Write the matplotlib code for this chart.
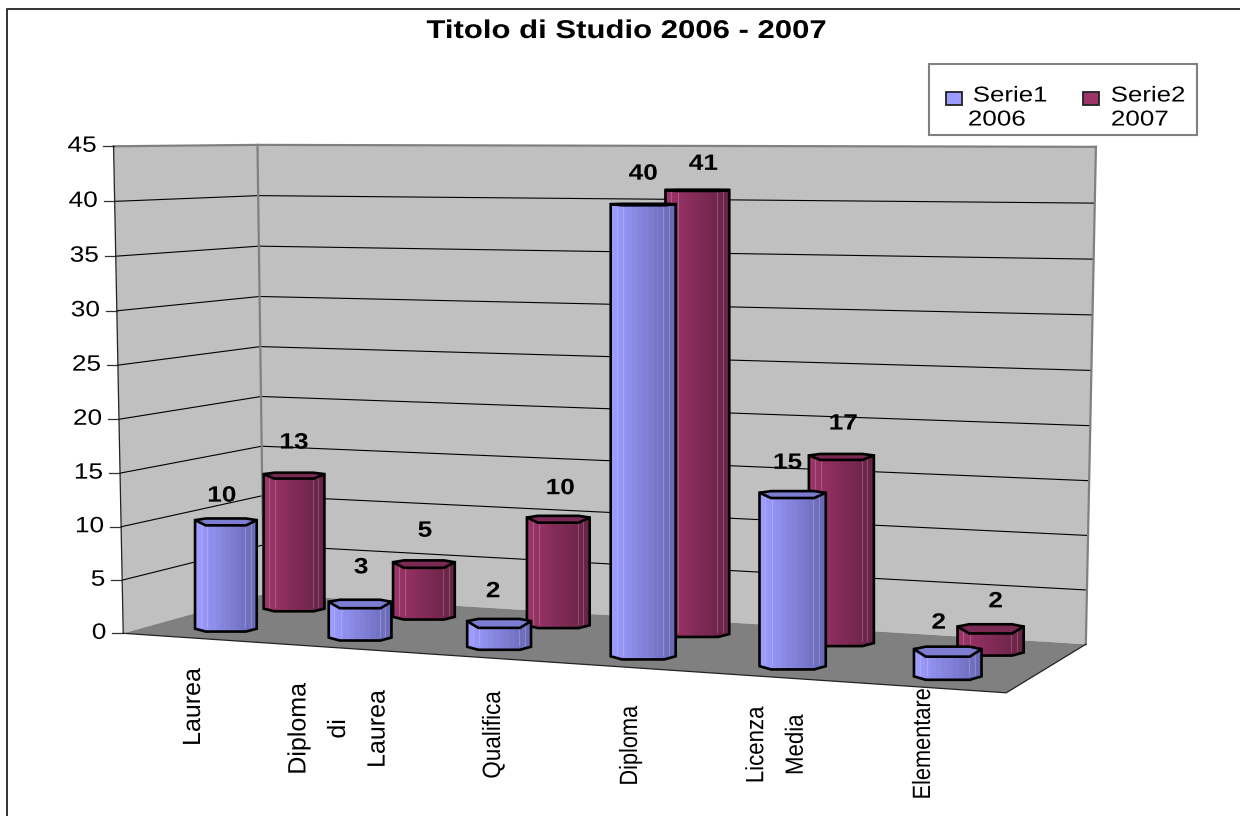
import numpy as np
import matplotlib
matplotlib.use("Agg")
import matplotlib.pyplot as plt
from matplotlib.patches import Polygon, Rectangle
from matplotlib.patheffects import AbstractPathEffect
from matplotlib.transforms import Affine2D

# ---------- data ----------
categories = ["Laurea", "Diploma\ndi\nLaurea", "Qualifica", "Diploma", "Licenza\nMedia", "Elementare"]
serie_2006 = [10, 3, 2, 40, 15, 2]
serie_2007 = [13, 5, 10, 41, 17, 2]
y_ticks = [0, 5, 10, 15, 20, 25, 30, 35, 40, 45]
title = "Titolo di Studio 2006 - 2007"
legend_names = ["Serie1", "Serie2"]
legend_years = ["2006", "2007"]

# ---------- style ----------
plt.rcParams["font.family"] = ["Liberation Sans", "DejaVu Sans"]
BLUE = ("#9C9CFF", "#6A6AB8", "#7C7CD0")
RED = ("#9C3468", "#682346", "#7A2952")
WALL, FLOOR, EDGE = "#C0C0C0", "#808080", "#808080"
# small offsets of the value labels, in pixels, per series
label_nudge = [[(-4, 6), (1, -4), (-6, 1), (0, 4), (-5, 3), (-9, 6)],
               [(0, -2), (1, -2), (2, 1), (6, 7), (2, 0), (5, 6)]]


class Stretch(AbstractPathEffect):
    """Stretch a text along its own direction: the reference image is scaled unevenly."""

    def __init__(self, sx, anchor=.5):
        super().__init__()
        self.sx, self.anchor = sx, anchor

    def draw_path(self, renderer, gc, tpath, affine, rgbFace=None):
        ext = tpath.get_extents()
        c = ext.x0 + self.anchor * ext.width
        renderer.draw_path(gc, tpath, Affine2D().translate(-c, 0).scale(self.sx, 1).translate(c, 0) + affine, rgbFace)


fig = plt.figure(figsize=(12.4, 8.16), dpi=100)
ax = fig.add_axes([0, 0, 1, 1])
ax.set_xlim(0, 1240)
ax.set_ylim(816, 0)
ax.axis("off")

# ---------- 3D box camera, fitted on the box corners (u, v, value) -> image ----------
box = [((0, 0, 0), (123, 632.5)), ((0, 1, 0), (264, 595)), ((1, 1, 0), (1086, 643)),
       ((1, 0, 0), (1006, 694)), ((0, 0, 45), (114, 146)), ((0, 1, 45), (257, 145)),
       ((1, 1, 45), (1096, 147))]
A, b = [], []
for (u, v, w), (px, py) in box:
    w = w / 45
    A.append([u, v, w, 1, 0, 0, 0, 0, -u * px, -v * px, -w * px]); b.append(px)
    A.append([0, 0, 0, 0, u, v, w, 1, -u * py, -v * py, -w * py]); b.append(py)
cam = np.append(np.linalg.lstsq(np.array(A, float), np.array(b, float), rcond=None)[0], 1).reshape(3, 4)


def proj(u, v, w):
    p = cam @ np.array([u, v, w / 45, 1.0])
    return p[0] / p[2], p[1] / p[2]


# ---------- walls and floor ----------
def face(pts, color, z):
    ax.add_patch(Polygon([proj(*p) for p in pts], closed=True, fc=color, ec="none", zorder=z))


face([(0, 0, 0), (0, 1, 0), (0, 1, 45), (0, 0, 45)], WALL, 1)
face([(0, 1, 0), (1, 1, 0), (1, 1, 45), (0, 1, 45)], WALL, 1)
face([(0, 0, 0), (1, 0, 0), (1, 1, 0), (0, 1, 0)], FLOOR, 1.2)

for t in y_ticks:
    c = EDGE if t == 45 else "black"
    lw = 1.6 if t == 45 else 0.8
    if t > 0:
        xs, ys = zip(proj(0, 0, t), proj(0, 1, t), proj(1, 1, t))
        ax.plot(xs, ys, color=c, lw=lw, zorder=1.5)
    x0, y0 = proj(0, 0, t)
    ax.plot([x0 - 11, x0], [y0, y0], color="#333333", lw=0.9, zorder=1.5)
    ax.text(x0 - 17, y0, str(t), ha="right", va="center", fontsize=16, color="black", zorder=6,
            path_effects=[Stretch(1.18, 1)])

xs, ys = zip(proj(0, 0, 0), proj(0, 0, 45))
ax.plot(xs, ys, color="#222222", lw=0.9, zorder=1.6)
xs, ys = zip(proj(0, 1, 0), proj(0, 1, 45))
ax.plot(xs, ys, color=EDGE, lw=1.6, zorder=1.6)
xs, ys = zip(proj(1, 1, 0), proj(1, 1, 45))
ax.plot(xs, ys, color=EDGE, lw=1.6, zorder=1.6)
xs, ys = zip(proj(0, 0, 0), proj(1, 0, 0), proj(1, 1, 0))
ax.plot(xs, ys, color="#222222", lw=0.9, zorder=1.6)

# ---------- cylinders ----------
HALF_U, HALF_V = 0.0375, 0.105
cap_shape = [(-1, .5), (-.65, 1), (.65, 1), (1, .5), (.65, -1), (-.65, -1)]
foot_shape = [(-1, -.35), (-.65, -1), (.65, -1), (1, -.35)]


def shade(a, b, n):
    a, b = [np.array(matplotlib.colors.to_rgb(c)) for c in (a, b)]
    return [a + (b - a) * i / (n - 1) for i in range(n)]


def cylinder(i, s, value, cols, z):
    uc, vc = (i + .5) / len(categories), (s + .5) / 2
    xc, y0 = proj(uc, vc, 0)
    _, y1 = proj(uc, vc, value)
    hw = ((proj(uc + HALF_U, vc, 0)[0] - proj(uc - HALF_U, vc, 0)[0]) / 2 + 32) / 2
    def half_depth(w):
        return (proj(uc, vc - HALF_V, w)[1] - proj(uc, vc + HALF_V, w)[1]) / 2
    h0, h1 = half_depth(0), half_depth(value)
    top = lambda sx, sy: (xc + sx * hw, y1 - sy * h1)
    bot = lambda sx, sy: (xc + sx * hw, y0 - sy * h0)
    body = [top(-1, .5)] + [bot(x, y) for x, y in foot_shape] + [top(1, .5)]
    ax.add_patch(Polygon(body, closed=True, fc="none", ec="black", lw=1.9, joinstyle="miter", zorder=z + .2))
    clip = Polygon(body, closed=True, transform=ax.transData)
    n = 12
    edges = np.linspace(-1, 1, n + 1)
    tones = shade(cols[0], cols[1], n)
    for k in range(n):
        st = Rectangle((xc + edges[k] * hw, y1 - 2 * h1), (edges[k + 1] - edges[k]) * hw, y0 - y1 + 2 * h1 + 2 * h0,
                       fc=tones[k], ec=tones[k], lw=.3, zorder=z)
        ax.add_patch(st)
        st.set_clip_path(clip)
    for f in (-.82, -.62, .62, .8):
        ln, = ax.plot([xc + f * hw] * 2, [y1, y0], color="white", alpha=.2, lw=.8, zorder=z + .05)
        ln.set_clip_path(clip)
    ax.add_patch(Polygon([top(x, y) for x, y in cap_shape], closed=True, fc=cols[2], ec="black",
                         lw=1.9, joinstyle="miter", zorder=z + .3))


for s, (vals, cols) in sorted(enumerate(((serie_2006, BLUE), (serie_2007, RED))), key=lambda t: -t[0]):
    for i, val in enumerate(vals):
        cylinder(i, s, val, cols, 3 - s)
        uc, vc = (i + .5) / len(categories), (s + .5) / 2
        lx, _ = proj(uc, vc, 0)
        _, ly = proj(uc, vc, val + 3)
        dx, dy = label_nudge[s][i]
        ax.text(lx + dx, ly + dy, str(val), ha="center", va="center", fontsize=16, fontweight="bold", zorder=7,
                path_effects=[Stretch(1.18)])

# ---------- category labels ----------
label_x = [193, 338, 493, 630, 776, 923]
label_y = [707, 729, 735, 746, 745, 744]
label_along = [1.0, 1.0, .9, .87, .89, .87]
for name, x, y, sx in zip(categories, label_x, label_y, label_along):
    ax.text(x, y, name, rotation=90, ha="center", va="center", ma="center", fontsize=18,
            linespacing=1.82, zorder=6, path_effects=[Stretch(sx)])

# ---------- title, legend, frame ----------
ax.text(626.5, 31, title, ha="center", va="center", fontsize=18.5, fontweight="bold", zorder=8,
        path_effects=[Stretch(1.21)])

ax.add_patch(Rectangle((929, 64), 268, 71, fc="white", ec=EDGE, lw=1.5, zorder=8))
for name, year, cols, sx, nx, yx in zip(legend_names, legend_years, (BLUE, RED), (946, 1083), (1010, 1148), (997, 1140)):
    ax.add_patch(Rectangle((sx, 92), 16, 13, fc=cols[0], ec="#222222", lw=1.3, zorder=9))
    ax.text(nx, 96, name, ha="center", va="center", fontsize=15.5, zorder=9, path_effects=[Stretch(1.2)])
    ax.text(yx, 120, year, ha="center", va="center", fontsize=15.5, zorder=9, path_effects=[Stretch(1.21)])

ax.plot([6.5, 6.5, 1240], [816, 8.5, 8.5], color="#333333", lw=1.4, zorder=10)

fig.savefig("out.png", dpi=100)
